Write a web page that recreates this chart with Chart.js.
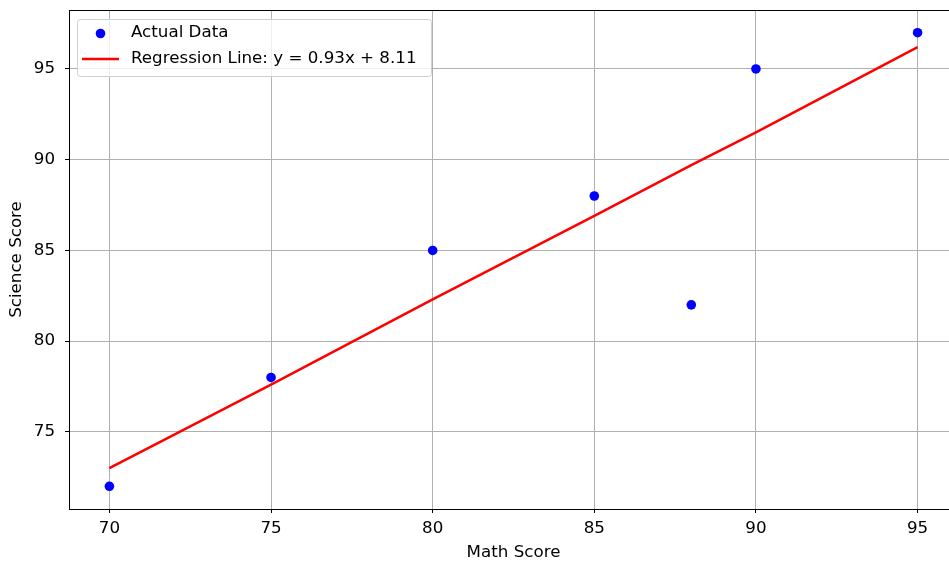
<!DOCTYPE html>
<html>
<head>
<meta charset="utf-8">
<script src="https://cdn.jsdelivr.net/npm/chart.js@4.4.1/dist/chart.umd.min.js"></script>
<style>
html,body{margin:0;padding:0;background:#fff;overflow:hidden;}
#wrap{width:970px;height:563px;}
</style>
</head>
<body>
<div id="wrap"><canvas id="c" width="970" height="563"></canvas></div>
<script>
// ---- data ----
const mathScores = [70, 75, 80, 85, 88, 90, 95];
const scienceScores = [72, 78, 85, 88, 82, 95, 97];
const regressionValues = [73.0, 77.6, 82.3, 86.9, 89.7, 91.5, 96.2];
const xTicks = [70, 75, 80, 85, 90, 95];
const yTicks = [75, 80, 85, 90, 95];
const scatterLabel = 'Actual Data';
const lineLabel = 'Regression Line: y = 0.93x + 8.11';
const xTitle = 'Math Score';
const yTitle = 'Science Score';

const FONT = 'DejaVu Sans';
const FS = 16.7;
const scatterPts = mathScores.map((x, i) => ({x: x, y: scienceScores[i]}));
const linePts = mathScores.map((x, i) => ({x: x, y: regressionValues[i]}));

const framePlugin = {
  id: 'frame',
  afterDraw(chart) {
    const ctx = chart.ctx, a = chart.chartArea;
    ctx.save();
    ctx.strokeStyle = '#000';
    ctx.lineWidth = 1;
    ctx.beginPath();
    ctx.moveTo(Math.round(a.left) + 0.5, Math.round(a.top) + 0.5);
    ctx.lineTo(Math.round(a.right) + 0.5, Math.round(a.top) + 0.5);
    ctx.lineTo(Math.round(a.right) + 0.5, Math.round(a.bottom) + 0.5);
    ctx.stroke();
    // legend
    const bx = 77.5, by = 19.5, bw = 354, bh = 57;
    ctx.fillStyle = 'rgba(255,255,255,0.8)';
    ctx.strokeStyle = '#d0d0d0';
    ctx.lineWidth = 1;
    ctx.beginPath();
    if (ctx.roundRect) ctx.roundRect(bx, by, bw, bh, 3); else ctx.rect(bx, by, bw, bh);
    ctx.fill();
    ctx.stroke();
    const ds = chart.data.datasets;
    ctx.fillStyle = ds[1].backgroundColor;
    ctx.beginPath();
    ctx.arc(100.5, 33.5, 4.8, 0, Math.PI * 2);
    ctx.fill();
    ctx.strokeStyle = ds[0].borderColor;
    ctx.lineWidth = 2.5;
    ctx.beginPath();
    ctx.moveTo(82, 59);
    ctx.lineTo(119, 59);
    ctx.stroke();
    ctx.fillStyle = '#000';
    ctx.font = FS + 'px "' + FONT + '"';
    ctx.textBaseline = 'middle';
    ctx.textAlign = 'left';
    ctx.fillText(ds[1].label, 131, 33);
    ctx.fillText(ds[0].label, 131, 59);
    ctx.restore();
  }
};

new Chart(document.getElementById('c'), {
  type: 'scatter',
  data: {
    datasets: [
      {
        type: 'line',
        label: lineLabel,
        data: linePts,
        borderColor: '#ff0000',
        backgroundColor: '#ff0000',
        borderWidth: 2.5,
        pointRadius: 0,
        fill: false,
        tension: 0,
        order: 0
      },
      {
        type: 'scatter',
        label: scatterLabel,
        data: scatterPts,
        backgroundColor: '#0000ff',
        borderColor: '#0000ff',
        borderWidth: 0,
        pointRadius: 4.8,
        pointHoverRadius: 4.8,
        order: 1
      }
    ]
  },
  options: {
    responsive: false,
    animation: false,
    devicePixelRatio: 1,
    layout: {padding: {left: 0, top: 10, right: 12, bottom: 0}},
    plugins: {legend: {display: false}, tooltip: {enabled: false}},
    scales: {
      x: {
        type: 'linear',
        min: 68.75,
        max: 96.25,
        afterBuildTicks: s => { s.ticks = xTicks.map(v => ({value: v})); },
        afterFit: s => { s.height = 54; s.paddingLeft = 0; s.paddingRight = 0; },
        grid: {color: '#b0b0b0', lineWidth: 1, tickColor: '#000', tickLength: 4, drawTicks: true},
        border: {display: true, color: '#000', width: 1},
        ticks: {color: '#000', font: {family: FONT, size: FS}, padding: 6, maxRotation: 0},
        title: {display: true, text: xTitle, color: '#000', font: {family: FONT, size: FS}, padding: {top: 0, bottom: 0}}
      },
      y: {
        type: 'linear',
        min: 70.75,
        max: 98.25,
        afterBuildTicks: s => { s.ticks = yTicks.map(v => ({value: v})); },
        afterFit: s => { s.width = 69; s.paddingTop = 0; s.paddingBottom = 0; },
        grid: {color: '#b0b0b0', lineWidth: 1, tickColor: '#000', tickLength: 4, drawTicks: true},
        border: {display: true, color: '#000', width: 1},
        ticks: {color: '#000', font: {family: FONT, size: FS}, padding: 10},
        title: {display: true, text: yTitle, color: '#000', font: {family: FONT, size: FS}, padding: {top: 7, bottom: 0}}
      }
    }
  },
  plugins: [framePlugin]
});
</script>
</body>
</html>
